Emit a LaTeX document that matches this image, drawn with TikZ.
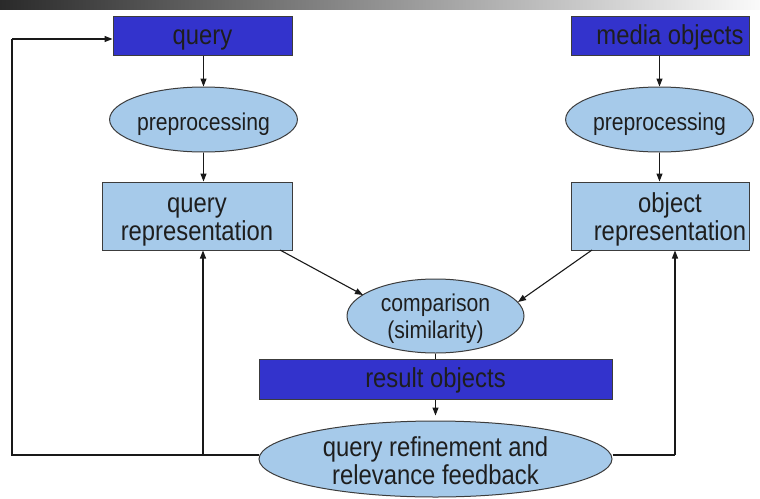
\documentclass[tikz,border=0pt]{standalone}
\usepackage{fontspec}
\setmainfont{Liberation Sans}[FakeStretch=0.87]
\usetikzlibrary{shapes.geometric,arrows.meta}
\definecolor{darkblue}{RGB}{51,51,204}
\definecolor{lightblue}{RGB}{166,202,234}
\definecolor{edgegray}{RGB}{60,60,60}
\definecolor{txt}{RGB}{30,30,30}
\definecolor{barleft}{RGB}{42,42,42}
\definecolor{barright}{RGB}{250,250,250}
\tikzset{
  shapebase/.style={draw=edgegray, line width=1pt, inner sep=0pt, text=txt, align=center, text depth=0pt},
  bigfont/.style={font=\fontsize{27.4}{28}\selectfont},
  smallfont/.style={font=\fontsize{24.3}{27}\selectfont},
  darkbox/.style={shapebase, rectangle, fill=darkblue, bigfont},
  lightbox/.style={shapebase, rectangle, fill=lightblue, bigfont},
  lightell/.style={shapebase, ellipse, fill=lightblue},
  conn/.style={draw=black!90, line width=1.1pt},
  arr/.style={conn, -{Triangle[length=8pt,width=6pt]}}
}
\begin{document}
\begin{tikzpicture}[x=1pt,y=-1pt]
\useasboundingbox (0,0) rectangle (760,498);
\shade[left color=barleft, right color=barright] (0,0) rectangle (760,9);

\node[darkbox, minimum width=179pt, minimum height=39pt, text height=17pt] (q) at (202.5,35.5) {query};
\node[darkbox, minimum width=178pt, minimum height=39pt, text height=17pt] (m) at (660,35.5) {\hspace*{20pt}media objects};
\node[lightell, smallfont, minimum width=176pt, minimum height=65pt, text height=21pt] (pq) at (203.5,119.5) {preprocessing};
\node[lightell, smallfont, minimum width=177pt, minimum height=65pt, text height=21pt] (pm) at (659.5,119.5) {preprocessing};
\node[lightbox, minimum width=190pt, minimum height=68pt, text height=48pt] (rq) at (197,216) {query\\representation};
\node[lightbox, minimum width=178pt, minimum height=68pt, text height=48pt] (ro) at (660,216) {\hspace*{20pt}object\\\hspace*{20pt}representation};
\node[lightell, smallfont, minimum width=177pt, minimum height=74pt, text height=44pt] (cmp) at (435.5,316) {comparison\\(similarity)};
\node[darkbox, minimum width=353pt, minimum height=40pt, text height=17pt] (res) at (435.5,379) {result objects};
\node[lightell, bigfont, minimum width=353pt, minimum height=76pt, text height=50pt] (fb) at (435.5,459) {query refinement and\\relevance feedback};

% coordinates of the connector corners
\coordinate (rqout) at (280,250);
\coordinate (roout) at (592,250);
\coordinate (cmpL) at (363,295);
\coordinate (cmpR) at (518,302);
\coordinate (LB) at (12,455);
\coordinate (LT) at (12,39);
\coordinate (LA) at (203,455);
\coordinate (RB) at (675,455);

% forward flow
\draw[arr] (pq.north |- q.south) -- (pq.north);
\draw[arr] (pq.south) -- (pq.south |- rq.north);
\draw[arr] (pm.north |- m.south) -- (pm.north);
\draw[arr] (pm.south) -- (pm.south |- ro.north);
\draw[arr] (rqout) -- (cmpL);
\draw[arr] (roout) -- (cmpR);
\draw[conn] (cmp.south) -- (cmp.south |- res.north);
\draw[arr, shorten >=5pt] (res.south) -- (fb.north);

% feedback loops
\draw[conn] (fb.west |- LB) -- (LB) -- (LT);
\draw[arr] (LT) -- (q.west |- LT);
\draw[arr] (LA) -- (LA |- rq.south);
\draw[conn] (fb.east |- RB) -- (RB);
\draw[arr] (RB) -- (RB |- ro.south);
\end{tikzpicture}
\end{document}
